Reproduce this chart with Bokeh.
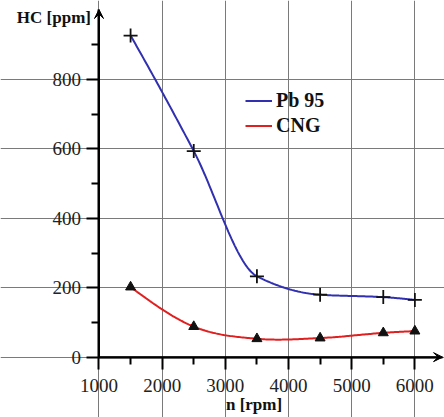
import numpy as np
from bokeh.plotting import figure
from bokeh.models import Range1d, FixedTicker, Arrow, VeeHead, Label, Legend, LegendItem
from bokeh.embed import file_html
from bokeh.resources import INLINE

# ---- data ----
rpm = [1500, 2500, 3500, 4500, 5500, 6000]
hc_pb95 = [927, 594, 233, 180, 173, 165]
hc_cng = [202, 88, 53, 55, 70, 75]
x_major = [1000, 2000, 3000, 4000, 5000, 6000]
x_minor = [1500, 2500, 3500, 4500, 5500]
y_major = [0, 200, 400, 600, 800]
y_minor = [100, 300, 500, 700, 900]


def end_slope(h0, h1, d0, d1):
    m = ((2 * h0 + h1) * d0 - h0 * d1) / (h0 + h1)
    if np.sign(m) != np.sign(d0):
        m = 0.0
    return m


def pchip_slopes(x, y):
    x = np.asarray(x, float); y = np.asarray(y, float)
    h = np.diff(x); d = np.diff(y) / h
    n = len(x); m = np.zeros(n)
    for k in range(1, n - 1):
        if d[k - 1] * d[k] <= 0:
            m[k] = 0.0
        else:
            w1 = 2 * h[k] + h[k - 1]; w2 = h[k] + 2 * h[k - 1]
            m[k] = (w1 + w2) / (w1 / d[k - 1] + w2 / d[k])
    m[0] = end_slope(h[0], h[1], d[0], d[1])
    m[-1] = end_slope(h[-1], h[-2], d[-1], d[-2])
    return m


def cr_slopes(x, y):
    x = np.asarray(x, float); y = np.asarray(y, float)
    n = len(x); m = np.zeros(n)
    for k in range(1, n - 1):
        m[k] = (y[k + 1] - y[k - 1]) / (x[k + 1] - x[k - 1])
    m[0] = (3 * (y[1] - y[0]) / (x[1] - x[0]) - m[1]) / 2
    m[-1] = (3 * (y[-1] - y[-2]) / (x[-1] - x[-2]) - m[-2]) / 2
    return m


def hermite(x, y, m, steps=40):
    xs, ys = [], []
    for k in range(len(x) - 1):
        h = x[k + 1] - x[k]
        t = np.linspace(0, 1, steps, endpoint=(k == len(x) - 2))
        h00 = 2 * t**3 - 3 * t**2 + 1
        h10 = t**3 - 2 * t**2 + t
        h01 = -2 * t**3 + 3 * t**2
        h11 = t**3 - t**2
        xs.append(x[k] + t * h)
        ys.append(h00 * y[k] + h10 * h * m[k] + h01 * y[k + 1] + h11 * h * m[k + 1])
    return np.concatenate(xs), np.concatenate(ys)


bx, by = hermite(rpm, hc_pb95, pchip_slopes(rpm, hc_pb95))
rx, ry = hermite(rpm, hc_cng, cr_slopes(rpm, hc_cng))

# axis extents (arrow tips) and view ranges
X0, X_TIP = 1000, 6438
Y0, Y_TIP = 0, 1002

p = figure(width=444, height=417, output_backend="svg", toolbar_location=None,
           x_range=Range1d(-559, 6469), y_range=Range1d(-174, 1028),
           min_border_left=0, min_border_right=0, min_border_top=0, min_border_bottom=0)
p.outline_line_color = None
p.background_fill_color = "white"
p.border_fill_color = "white"

FONT = "Liberation Serif"
for ax in (p.xaxis[0], p.yaxis[0]):
    ax.axis_line_color = "black"
    ax.axis_line_width = 2
    ax.major_tick_line_color = "black"
    ax.major_tick_line_width = 2
    ax.minor_tick_line_color = "black"
    ax.minor_tick_line_width = 2
    ax.major_tick_in = 0
    ax.major_tick_out = 12
    ax.minor_tick_in = 0
    ax.minor_tick_out = 7
    ax.major_label_text_font = FONT
    ax.major_label_text_font_size = "19px"
    ax.major_label_text_color = "#222222"

p.xaxis[0].fixed_location = Y0
p.yaxis[0].fixed_location = X0
p.xaxis[0].bounds = (X0, X_TIP)
p.yaxis[0].bounds = (Y0, Y_TIP)
p.xaxis[0].ticker = FixedTicker(ticks=x_major, minor_ticks=x_minor)
p.yaxis[0].ticker = FixedTicker(ticks=y_major, minor_ticks=y_minor)
p.xaxis[0].major_label_standoff = 10
p.yaxis[0].major_label_standoff = 6

p.xgrid[0].bounds = (Y0, Y_TIP)
p.ygrid[0].bounds = (X0, 6469)
for g in (p.xgrid[0], p.ygrid[0]):
    g.grid_line_color = "#7a7a7a"
    g.grid_line_width = 1

l_pb = p.line(bx, by, line_color="#3030b0", line_width=2)
l_cng = p.line(rx, ry, line_color="#e02020", line_width=2)
p.scatter(rpm, hc_pb95, marker="cross", size=14, line_color="#111111", line_width=1.8)
p.scatter(rpm, hc_cng, marker="triangle", size=10, fill_color="#111111", line_color="#111111")

p.add_layout(Arrow(x_start=X0, y_start=Y0, x_end=X0, y_end=Y_TIP, line_color="black", line_width=2,
                   end=VeeHead(size=9, fill_color="black", line_color="black")))
p.add_layout(Arrow(x_start=X0, y_start=Y0, x_end=X_TIP, y_end=Y0, line_color="black", line_width=2,
                   end=VeeHead(size=9, fill_color="black", line_color="black")))

p.add_layout(Label(x=X0, y=979, x_offset=-8, text="HC [ppm]", text_align="right",
                   text_baseline="middle", text_font=FONT, text_font_size="17px",
                   text_font_style="bold", text_color="#111111"))
p.add_layout(Label(x=3454, y=-136, text="n [rpm]", text_align="center",
                   text_baseline="middle", text_font=FONT, text_font_size="17px",
                   text_font_style="bold", text_color="#111111"))

legend = Legend(items=[LegendItem(label="Pb 95", renderers=[l_pb]),
                       LegendItem(label="CNG", renderers=[l_cng])],
                location=(245, 280), padding=0, spacing=2, glyph_width=27, glyph_height=23,
                label_height=23, label_standoff=4, border_line_color=None,
                background_fill_alpha=0, label_text_font=FONT, label_text_font_size="20px",
                label_text_font_style="bold", label_text_color="#111111")
p.add_layout(legend)

open("out.html", "w").write(file_html(p, INLINE))
